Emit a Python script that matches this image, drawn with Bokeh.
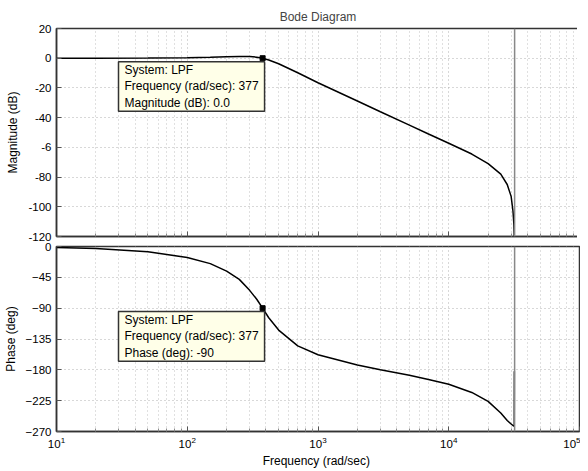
from bokeh.plotting import figure
from bokeh.models import Range1d, FixedTicker, Span, Label
from bokeh.layouts import column
from bokeh.embed import file_html
from bokeh.resources import INLINE

# ---- data ----
freq_mag = [10, 20, 50, 100, 150, 200, 250, 300, 340, 377, 420, 500, 700, 1000,
            2000, 3000, 5000, 7000, 10000, 15000, 20000, 25000, 28000, 30000,
            31000, 31500, 31800]
mag_db = [0.0, 0.0, 0.1, 0.3, 0.6, 1.0, 1.2, 1.1, 0.7, 0.0, -1.2, -3.7, -9.8, -16.5,
          -28.8, -36.0, -45.0, -51.0, -57.2, -64.5, -71.0, -78.0, -85.0, -93.0,
          -103.0, -112.0, -125.0]

freq_ph = [10, 20, 50, 100, 150, 200, 250, 300, 340, 377, 420, 500, 700, 1000,
           2000, 3000, 5000, 7000, 10000, 15000, 20000, 25000, 28000, 30000,
           31300, 31700, 31750]
phase_deg = [-1.5, -3.0, -7.7, -16.0, -25.0, -36.0, -48.0, -64.0, -77.0, -90.0,
             -104.0, -122.0, -145.0, -158.0, -173.0, -180.0, -188.0, -194.0,
             -201.0, -213.0, -226.0, -243.0, -254.0, -259.0, -262.0, -262.0, -182.0]

notch_freq = 31900
system_name = "LPF"
tip_freq = 377
tip_mag = 0.0
tip_phase = -90

x_ticks = [10, 100, 1000, 10000, 100000]
mag_ticks = [20, 0, -20, -40, -60, -80, -100, -120]
mag_tick_labels = {20: "20", 0: "0", -20: "-20", -40: "-40", -60: "-6",
                   -80: "-80", -100: "-100", -120: "-120"}
phase_ticks = [0, -45, -90, -135, -180, -225, -270]

FONT = "Liberation Sans"
minor = [m * 10 ** e for e in range(1, 5) for m in range(2, 10)]


def style(p):
    p.outline_line_color = "#333333"
    p.outline_line_width = 1.5
    p.background_fill_color = "white"
    p.border_fill_color = "white"
    p.xaxis.ticker = FixedTicker(ticks=x_ticks, minor_ticks=minor)
    for ax in (p.xaxis[0], p.yaxis[0]):
        ax.axis_line_color = "#333333"
        ax.axis_line_width = 1.5
        ax.major_tick_in = 5
        ax.major_tick_out = 0
        ax.minor_tick_in = 3
        ax.minor_tick_out = 0
        ax.major_tick_line_color = "#555555"
        ax.minor_tick_line_color = "#888888"
        ax.major_label_text_font = FONT
        ax.major_label_text_font_size = "11.5px"
        ax.major_label_text_color = "black"
        ax.axis_label_text_font = FONT
        ax.axis_label_text_font_size = "12px"
        ax.axis_label_text_font_style = "normal"
        ax.axis_label_text_color = "black"
    p.yaxis.minor_tick_line_color = None
    p.yaxis.major_label_standoff = 5
    p.xgrid.grid_line_color = "#b0b0b0"
    p.xgrid.grid_line_dash = "1 3"
    p.xgrid.minor_grid_line_color = "#c0c0c0"
    p.xgrid.minor_grid_line_dash = "1 3"
    p.ygrid.grid_line_color = "#b0b0b0"
    p.ygrid.grid_line_dash = "1 3"


xr = Range1d(10, 100000)

p1 = figure(frame_width=523, frame_height=208, x_axis_type="log", x_range=xr,
            y_range=Range1d(-120, 20), output_backend="svg",
            toolbar_location=None, min_border_left=49, min_border_right=1,
            min_border_top=28, min_border_bottom=6)
style(p1)
p1.title.text = "Bode Diagram"
p1.title.align = "center"
p1.title.text_font = FONT
p1.title.text_font_size = "12px"
p1.title.text_font_style = "normal"
p1.title.standoff = 10
p1.yaxis.ticker = FixedTicker(ticks=mag_ticks)
p1.yaxis.major_label_overrides = mag_tick_labels
p1.yaxis.axis_label = "Magnitude (dB)"
p1.xaxis.major_label_text_font_size = "1px"
p1.xaxis.major_label_text_alpha = 0
p1.xaxis.major_label_standoff = 0

p1.add_layout(Span(location=notch_freq, dimension="height",
                   line_color="#888888", line_width=1.5))
p1.line(freq_mag, mag_db, line_color="black", line_width=1.5)
p1.scatter([tip_freq], [tip_mag], marker="square", size=5, color="black")
p1.add_layout(Label(x=29.8, y=-2.3, x_units="data", y_units="data",
                    anchor="top_left",
                    text=f"System: {system_name}\nFrequency (rad/sec): {tip_freq}\nMagnitude (dB):  {tip_mag:.1f}",
                    text_font=FONT, text_font_size="12px", text_color="black",
                    padding=(6, 1),
                    background_fill_color="#ffffe8", border_line_color="#333333",
                    border_line_width=1.5))

p2 = figure(frame_width=523, frame_height=185, x_axis_type="log", x_range=xr,
            y_range=Range1d(-270, 0), output_backend="svg",
            toolbar_location=None, min_border_left=49, min_border_right=1,
            min_border_top=4, min_border_bottom=34)
style(p2)
p2.yaxis.ticker = FixedTicker(ticks=phase_ticks)
p2.yaxis.axis_label = "Phase (deg)"
p2.xaxis.axis_label = "Frequency  (rad/sec)"
p2.xaxis.axis_label_standoff = 3

p2.add_layout(Span(location=notch_freq, dimension="height",
                   line_color="#888888", line_width=1.5))
p2.line(freq_ph, phase_deg, line_color="black", line_width=1.5)
p2.scatter([tip_freq], [tip_phase], marker="square", size=5, color="black")
p2.add_layout(Label(x=29.8, y=-95, x_units="data", y_units="data",
                    anchor="top_left",
                    text=f"System: {system_name}\nFrequency (rad/sec): {tip_freq}\nPhase (deg): {tip_phase}",
                    text_font=FONT, text_font_size="12px", text_color="black",
                    padding=(6, 1),
                    background_fill_color="#ffffe8", border_line_color="#333333",
                    border_line_width=1.5))

layout = column(p1, p2, spacing=0)
open("out.html", "w").write(file_html(layout, INLINE))
